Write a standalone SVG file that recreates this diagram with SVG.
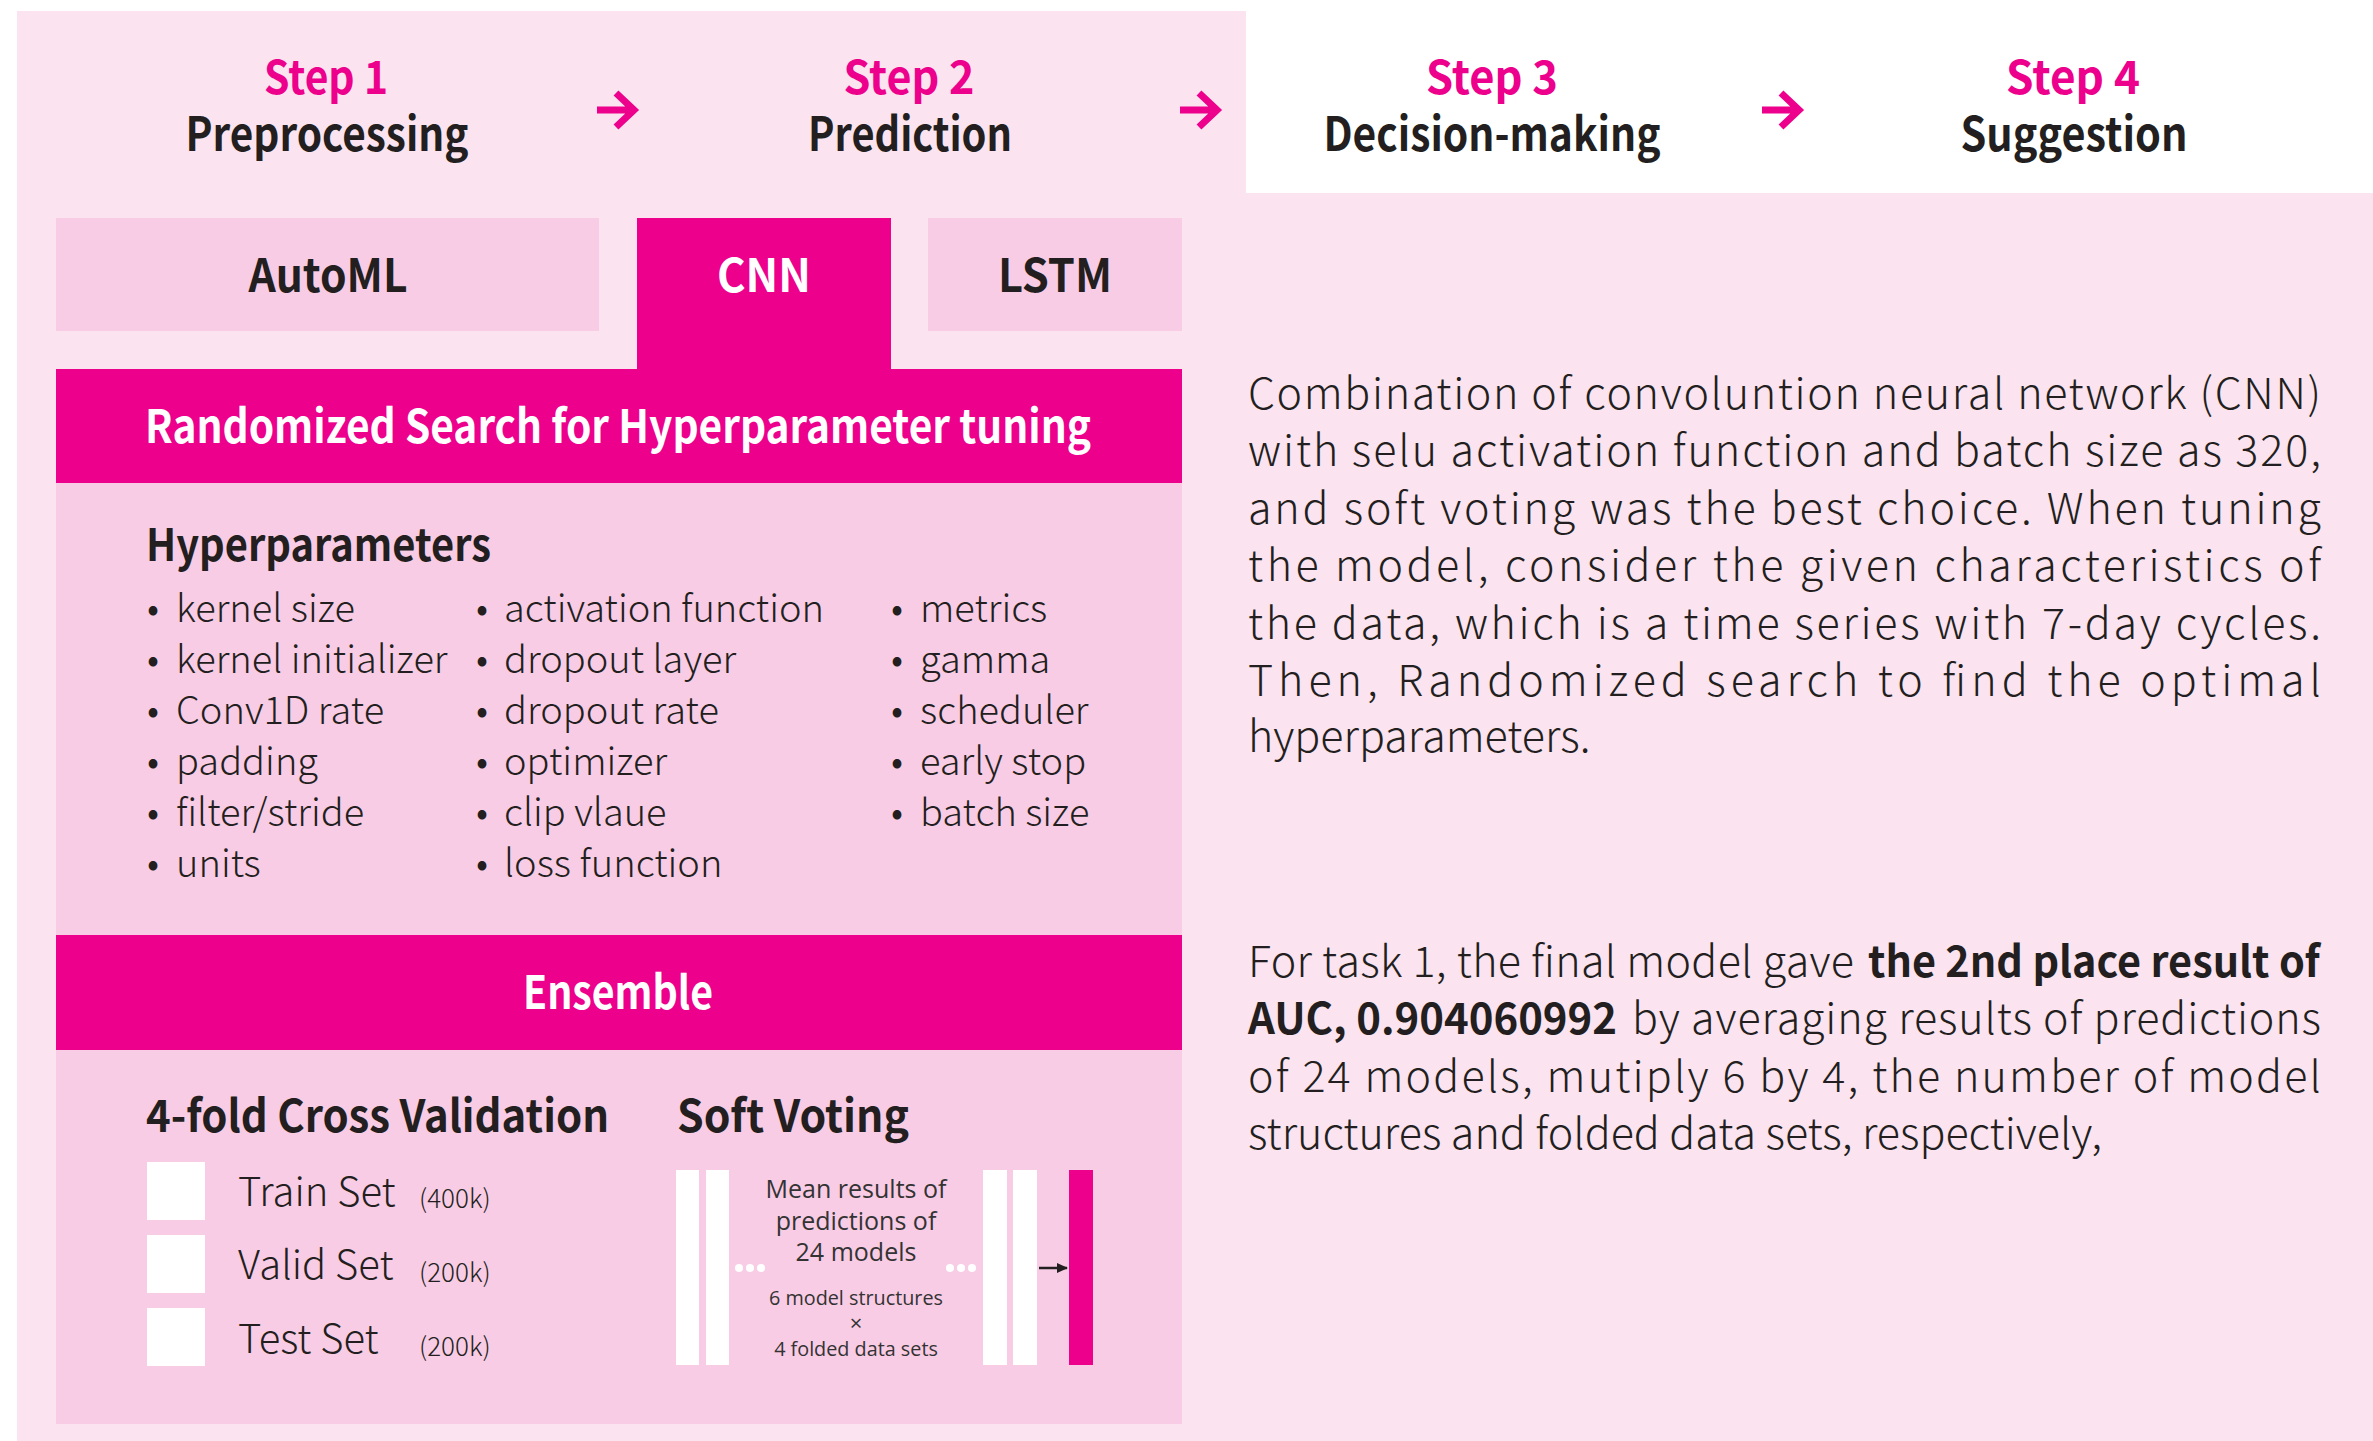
<svg xmlns="http://www.w3.org/2000/svg" xmlns:xlink="http://www.w3.org/1999/xlink" width="2373" height="1441" viewBox="0 0 2373 1441">
  <style>
    .bold { font-family: "Noto Sans CJK KR", "Noto Sans", sans-serif; font-weight: 700; }
    .light { font-family: "Noto Sans CJK KR", "Noto Sans", sans-serif; font-weight: 300; fill: #231F20; }
    .small { font-family: "Open Sans", "Noto Sans", sans-serif; font-weight: 400; fill: #333333; }
    .step { font-size: 46px; fill: #EC008C; text-anchor: middle; }
    .title { font-size: 47px; fill: #231F20; text-anchor: middle; }
    .tab { font-size: 46px; text-anchor: middle; }
    .banner { font-size: 46px; fill: #FFFFFF; text-anchor: middle; }
    .head { font-size: 45px; fill: #231F20; }
    .item { font-size: 38px; }
    .set { font-size: 40px; }
    .para { font-size: 43px; }
    .light-bg { fill: #FBE4F0; }
    .mid-bg { fill: #F9CCE5; }
    .magenta { fill: #EC008C; }
    .white { fill: #FFFFFF; }
    .arrow { fill: none; stroke: #EC008C; stroke-width: 7; stroke-linejoin: miter; }
  </style>
  <defs>
    <path id="step-arrow" d="M0 0 H37 M19 -17 L37 0 L19 17"/>
    <marker id="head-black" markerUnits="userSpaceOnUse" markerWidth="12" markerHeight="10" refX="10" refY="5" orient="auto">
      <path d="M0 0 L11 5 L0 10 Z" fill="#231F20"/>
    </marker>
  </defs>

  <!-- page backgrounds -->
  <rect x="0" y="0" width="2373" height="1441" fill="#FFFFFF"/>
  <rect class="light-bg" x="17" y="11" width="2356" height="1430"/>
  <rect class="white" x="1246" y="11" width="1127" height="182"/>

  <!-- process steps -->
  <g id="step1">
    <text class="bold step" x="326" y="94" textLength="124" lengthAdjust="spacingAndGlyphs">Step 1</text>
    <text class="bold title" x="327" y="151" textLength="283" lengthAdjust="spacingAndGlyphs">Preprocessing</text>
  </g>
  <g id="step2">
    <text class="bold step" x="909" y="94" textLength="131" lengthAdjust="spacingAndGlyphs">Step 2</text>
    <text class="bold title" x="910" y="151" textLength="204" lengthAdjust="spacingAndGlyphs">Prediction</text>
  </g>
  <g id="step3">
    <text class="bold step" x="1492" y="94" textLength="132" lengthAdjust="spacingAndGlyphs">Step 3</text>
    <text class="bold title" x="1492" y="151" textLength="337" lengthAdjust="spacingAndGlyphs">Decision-making</text>
  </g>
  <g id="step4">
    <text class="bold step" x="2073" y="94" textLength="134" lengthAdjust="spacingAndGlyphs">Step 4</text>
    <text class="bold title" x="2074" y="151" textLength="227" lengthAdjust="spacingAndGlyphs">Suggestion</text>
  </g>

  <!-- model tabs -->
  <g id="automl">
    <rect class="mid-bg" x="56" y="218" width="543" height="113"/>
    <text class="bold tab" x="328" y="292" fill="#231F20" textLength="159" lengthAdjust="spacingAndGlyphs">AutoML</text>
  </g>
  <g id="cnn">
    <rect class="magenta" x="637" y="218" width="254" height="152"/>
    <text class="bold tab" x="764" y="292" fill="#FFFFFF" textLength="94" lengthAdjust="spacingAndGlyphs">CNN</text>
  </g>
  <g id="lstm">
    <rect class="mid-bg" x="928" y="218" width="254" height="113"/>
    <text class="bold tab" x="1055" y="292" fill="#231F20" textLength="114" lengthAdjust="spacingAndGlyphs">LSTM</text>
  </g>

  <!-- hyperparameter search -->
  <g id="search">
    <rect class="magenta" x="56" y="369" width="1126" height="114"/>
    <text class="bold banner" x="618" y="443" textLength="946" lengthAdjust="spacingAndGlyphs">Randomized Search for Hyperparameter tuning</text>
  </g>
  <g id="hyperparameters">
    <rect class="mid-bg" x="56" y="483" width="1126" height="453"/>
    <text class="bold head" x="146" y="561" textLength="345" lengthAdjust="spacingAndGlyphs">Hyperparameters</text>
    <g class="light item">
      <text x="147" y="622">•<tspan x="176">kernel size</tspan></text>
      <text x="147" y="673">•<tspan x="176">kernel initializer</tspan></text>
      <text x="147" y="724">•<tspan x="176">Conv1D rate</tspan></text>
      <text x="147" y="775">•<tspan x="176">padding</tspan></text>
      <text x="147" y="826">•<tspan x="176">filter/stride</tspan></text>
      <text x="147" y="877">•<tspan x="176">units</tspan></text>

      <text x="476" y="622">•<tspan x="504">activation function</tspan></text>
      <text x="476" y="673">•<tspan x="504">dropout layer</tspan></text>
      <text x="476" y="724">•<tspan x="504">dropout rate</tspan></text>
      <text x="476" y="775">•<tspan x="504">optimizer</tspan></text>
      <text x="476" y="826">•<tspan x="504">clip vlaue</tspan></text>
      <text x="476" y="877">•<tspan x="504">loss function</tspan></text>

      <text x="891" y="622">•<tspan x="920">metrics</tspan></text>
      <text x="891" y="673">•<tspan x="920">gamma</tspan></text>
      <text x="891" y="724">•<tspan x="920">scheduler</tspan></text>
      <text x="891" y="775">•<tspan x="920">early stop</tspan></text>
      <text x="891" y="826">•<tspan x="920">batch size</tspan></text>
    </g>
  </g>

  <!-- ensemble -->
  <g id="ensemble">
    <rect class="magenta" x="56" y="935" width="1126" height="115"/>
    <text class="bold banner" x="618" y="1009" textLength="190" lengthAdjust="spacingAndGlyphs">Ensemble</text>
  </g>
  <rect class="mid-bg" x="56" y="1050" width="1126" height="374"/>

  <g id="cross-validation">
    <text class="bold head" x="146" y="1132" textLength="463" lengthAdjust="spacingAndGlyphs">4-fold Cross Validation</text>
    <rect class="white" x="147" y="1162" width="58" height="58"/>
    <rect class="white" x="147" y="1235" width="58" height="58"/>
    <rect class="white" x="147" y="1308" width="58" height="58"/>
    <text class="light set" x="238" y="1206">Train Set</text>
    <text class="light set" x="238" y="1279">Valid Set</text>
    <text class="light set" x="238" y="1353">Test Set</text>
    <text class="light" font-size="26" x="419" y="1208">(400k)</text>
    <text class="light" font-size="26" x="419" y="1282">(200k)</text>
    <text class="light" font-size="26" x="419" y="1356">(200k)</text>
  </g>

  <g id="soft-voting">
    <text class="bold head" x="677" y="1132" textLength="232" lengthAdjust="spacingAndGlyphs">Soft Voting</text>
    <rect class="white" x="676" y="1170" width="23" height="195"/>
    <rect class="white" x="706" y="1170" width="23" height="195"/>
    <circle class="white" cx="739" cy="1268" r="4"/>
    <circle class="white" cx="750" cy="1268" r="4"/>
    <circle class="white" cx="761" cy="1268" r="4"/>
    <text class="small" font-size="25" text-anchor="middle" x="856" y="1198">Mean results of</text>
    <text class="small" font-size="25" text-anchor="middle" x="856" y="1230">predictions of</text>
    <text class="small" font-size="25" text-anchor="middle" x="856" y="1261">24 models</text>
    <text class="small" font-size="19.8" text-anchor="middle" x="856" y="1305">6 model structures</text>
    <text class="small" font-size="22" font-weight="300" text-anchor="middle" x="856" y="1331" fill="#8A8A8A">×</text>
    <text class="small" font-size="19.8" text-anchor="middle" x="856" y="1356">4 folded data sets</text>
    <circle class="white" cx="950" cy="1268" r="4"/>
    <circle class="white" cx="961" cy="1268" r="4"/>
    <circle class="white" cx="972" cy="1268" r="4"/>
    <rect class="white" x="983" y="1170" width="24" height="195"/>
    <rect class="white" x="1013" y="1170" width="24" height="195"/>
    <rect class="magenta" x="1069" y="1170" width="24" height="195"/>
  </g>

  <!-- connectors -->
  <g id="connectors">
    <use href="#step-arrow" xlink:href="#step-arrow" class="arrow" x="597" y="110"/>
    <use href="#step-arrow" xlink:href="#step-arrow" class="arrow" x="1180" y="110"/>
    <use href="#step-arrow" xlink:href="#step-arrow" class="arrow" x="1762" y="110"/>
    <line x1="1039" y1="1268" x2="1067" y2="1268" stroke="#231F20" stroke-width="2.5" marker-end="url(#head-black)"/>
  </g>

  <!-- description texts -->
  <g id="description-model" class="light para">
    <text x="1248" y="409" textLength="1073" lengthAdjust="spacing">Combination of convoluntion neural network (CNN)</text>
    <text x="1248" y="466" textLength="1073" lengthAdjust="spacing">with selu activation function and batch size as 320,</text>
    <text x="1248" y="524" textLength="1073" lengthAdjust="spacing">and soft voting was the best choice. When tuning</text>
    <text x="1248" y="581" textLength="1073" lengthAdjust="spacing">the model, consider the given characteristics of</text>
    <text x="1248" y="639" textLength="1073" lengthAdjust="spacing">the data, which is a time series with 7-day cycles.</text>
    <text x="1248" y="696" textLength="1073" lengthAdjust="spacing">Then, Randomized search to find the optimal</text>
    <text x="1248" y="752">hyperparameters.</text>
  </g>
  <g id="description-result" class="light para">
    <text x="1248" y="977" textLength="606" lengthAdjust="spacing">For task 1, the final model gave</text>
    <text x="1868" y="977" font-weight="700" textLength="452" lengthAdjust="spacingAndGlyphs">the 2nd place result of</text>
    <text x="1248" y="1034" font-weight="700" textLength="369" lengthAdjust="spacingAndGlyphs">AUC, 0.904060992</text>
    <text x="1632" y="1034" textLength="689" lengthAdjust="spacing">by averaging results of predictions</text>
    <text x="1248" y="1092" textLength="1073" lengthAdjust="spacing">of 24 models, mutiply 6 by 4, the number of model</text>
    <text x="1248" y="1149">structures and folded data sets, respectively,</text>
  </g>
</svg>
